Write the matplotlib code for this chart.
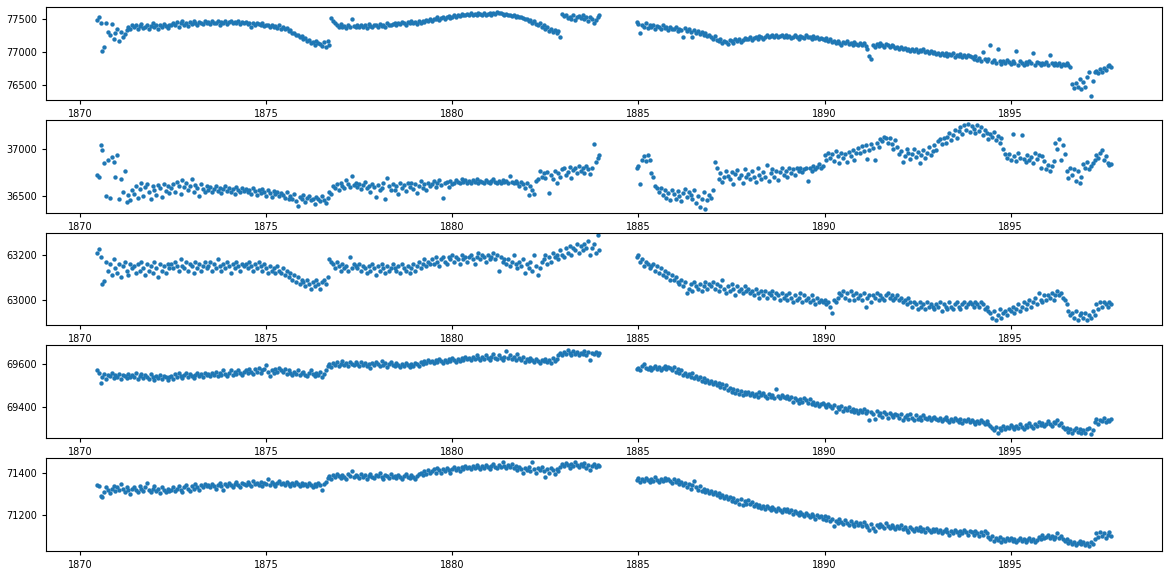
import numpy as np
import matplotlib
matplotlib.use('Agg')
import matplotlib.pyplot as plt
from matplotlib.ticker import MultipleLocator

# sampling of the record: one value every 0.05 year, two runs with a gap in 1884
STEP = 0.05
START_A = 1870.45
START_B = 1884.95

# series 1
s1_a = [
    77480, 77520, 77430, 77020, 77080, 77440, 77300, 77250, 77420, 77200, 77290, 77350, 77160, 77300, 77220, 77270, 77330, 77380, 77340, 77400,
    77370, 77410, 77350, 77390, 77420, 77360, 77380, 77400, 77340, 77390, 77430, 77370, 77400, 77350, 77410, 77380, 77420, 77390, 77360, 77410,
    77400, 77440, 77410, 77450, 77380, 77430, 77460, 77410, 77440, 77390, 77450, 77420, 77470, 77430, 77400, 77450, 77440, 77420, 77460, 77430,
    77450, 77420, 77460, 77440, 77430, 77470, 77410, 77450, 77440, 77460, 77420, 77450, 77470, 77430, 77450, 77440, 77460, 77420, 77450, 77440,
    77450, 77420, 77440, 77380, 77430, 77410, 77440, 77420, 77400, 77430, 77390, 77410, 77400, 77380, 77410, 77370, 77390, 77360, 77400, 77350,
    77380, 77340, 77360, 77310, 77330, 77280, 77290, 77250, 77260, 77220, 77240, 77190, 77210, 77160, 77180, 77140, 77150, 77110, 77170, 77130,
    77120, 77090, 77150, 77070, 77160, 77100, 77510, 77470, 77430, 77400, 77380, 77420, 77370, 77390, 77360, 77400, 77380, 77500, 77390, 77370,
    77400, 77370, 77410, 77380, 77400, 77360, 77420, 77390, 77380, 77410, 77400, 77370, 77420, 77390, 77410, 77380, 77430, 77400, 77410, 77420,
    77430, 77410, 77440, 77420, 77450, 77430, 77410, 77450, 77440, 77460, 77430, 77450, 77420, 77460, 77440, 77470, 77450, 77480, 77460, 77490,
    77470, 77500, 77490, 77520, 77480, 77510, 77530, 77500, 77520, 77540, 77510, 77530, 77550, 77520, 77560, 77540, 77570, 77550, 77560, 77570,
    77560, 77580, 77550, 77570, 77560, 77580, 77570, 77550, 77580, 77560, 77570, 77590, 77560, 77580, 77570, 77600, 77590, 77580, 77570, 77560,
    77570, 77550, 77560, 77540, 77550, 77530, 77540, 77520, 77530, 77510, 77500, 77490, 77470, 77480, 77440, 77460, 77420, 77400, 77430, 77380,
    77400, 77350, 77370, 77320, 77340, 77300, 77330, 77280, 77310, 77220, 77570, 77540, 77560, 77510, 77530, 77500, 77550, 77480, 77520, 77540,
    77510, 77550, 77490, 77530, 77470, 77520, 77500, 77440, 77480, 77530, 77550,
]
s1_b = [
    77450, 77420, 77290, 77400, 77380, 77430, 77360, 77400, 77370, 77410, 77350, 77390, 77370, 77340, 77400, 77360, 77380, 77330, 77370, 77350,
    77340, 77370, 77320, 77350, 77330, 77220, 77360, 77310, 77340, 77300, 77220, 77330, 77290, 77310, 77270, 77300, 77250, 77280, 77240, 77260,
    77230, 77200, 77240, 77180, 77160, 77190, 77130, 77170, 77150, 77120, 77180, 77160, 77140, 77190, 77170, 77200, 77150, 77180, 77210, 77190,
    77200, 77220, 77180, 77210, 77230, 77200, 77240, 77220, 77190, 77230, 77250, 77220, 77240, 77260, 77230, 77250, 77220, 77240, 77260, 77230,
    77250, 77220, 77240, 77210, 77230, 77250, 77220, 77200, 77240, 77230, 77210, 77250, 77220, 77230, 77200, 77240, 77210, 77220, 77190, 77210,
    77200, 77180, 77210, 77170, 77190, 77150, 77170, 77130, 77160, 77140, 77110, 77150, 77130, 77160, 77120, 77140, 77100, 77150, 77120, 77110,
    77140, 77100, 77130, 77090, 77050, 76940, 76900, 77110, 77080, 77120, 77090, 77130, 77110, 77080, 77120, 77100, 77070, 77110, 77090, 77060,
    77080, 77050, 77070, 77040, 77060, 77030, 77050, 77010, 77040, 77020, 77050, 77000, 77030, 77010, 77040, 77000, 77020, 76990, 77010, 76980,
    77000, 76970, 76990, 76950, 76980, 76960, 76990, 76940, 76970, 76950, 76980, 76930, 76960, 76940, 76970, 76920, 76950, 76930, 76960, 76940,
    76930, 76900, 76940, 76880, 76910, 76870, 77000, 76900, 76860, 76890, 77100, 76850, 76880, 76840, 77050, 76870, 76820, 76860, 76840, 76880,
    76850, 76820, 76870, 76840, 77020, 76810, 76860, 76830, 76800, 76850, 76820, 76860, 76840, 76980, 76810, 76850, 76830, 76800, 76840, 76820,
    76850, 76810, 76960, 76830, 76800, 76840, 76810, 76830, 76790, 76820, 76800, 76840, 76810, 76780, 76520, 76460, 76540, 76480, 76600, 76440,
    76550, 76480, 76620, 76700, 76340, 76560, 76700, 76720, 76680, 76740, 76700, 76760, 76730, 76790, 76810, 76780,
]

# series 2
s2_a = [
    36720, 36700, 37040, 36990, 36850, 36500, 36880, 36480, 36910, 36860, 36700, 36930, 36460, 36680, 36540, 36760, 36430, 36510, 36450, 36560,
    36520, 36600, 36480, 36570, 36640, 36500, 36590, 36620, 36540, 36470, 36600, 36560, 36510, 36610, 36580, 36490, 36620, 36550, 36600, 36530,
    36580, 36620, 36540, 36650, 36600, 36520, 36670, 36590, 36630, 36560, 36600, 36680, 36540, 36610, 36580, 36500, 36620, 36570, 36540, 36600,
    36560, 36590, 36540, 36570, 36600, 36550, 36580, 36530, 36570, 36600, 36550, 36580, 36540, 36570, 36520, 36590, 36560, 36540, 36580, 36550,
    36570, 36540, 36560, 36520, 36580, 36550, 36510, 36560, 36530, 36570, 36540, 36500, 36560, 36530, 36490, 36550, 36520, 36540, 36500, 36530,
    36510, 36480, 36540, 36460, 36500, 36470, 36520, 36440, 36390, 36490, 36460, 36510, 36430, 36480, 36500, 36450, 36470, 36410, 36490, 36460,
    36440, 36500, 36450, 36420, 36480, 36540, 36520, 36600, 36580, 36620, 36560, 36640, 36600, 36580, 36670, 36620, 36590, 36710, 36610, 36640,
    36590, 36620, 36570, 36610, 36650, 36580, 36600, 36540, 36620, 36590, 36490, 36610, 36560, 36580, 36640, 36470, 36690, 36600, 36560, 36620,
    36560, 36600, 36520, 36640, 36580, 36610, 36550, 36630, 36590, 36640, 36570, 36620, 36530, 36600, 36660, 36580, 36620, 36560, 36640, 36600,
    36620, 36660, 36590, 36640, 36670, 36610, 36480, 36630, 36650, 36590, 36660, 36620, 36640, 36670, 36650, 36630, 36680, 36650, 36670, 36640,
    36660, 36640, 36670, 36650, 36680, 36630, 36660, 36650, 36640, 36670, 36650, 36630, 36660, 36680, 36650, 36640, 36660, 36630, 36670, 36650,
    36660, 36640, 36710, 36650, 36630, 36660, 36640, 36600, 36650, 36620, 36580, 36630, 36510, 36600, 36560, 36520, 36660, 36680, 36760, 36700,
    36740, 36690, 36750, 36530, 36720, 36680, 36760, 36640, 36740, 36700, 36780, 36800, 36720, 36750, 36810, 36690, 36770, 36800, 36740, 36820,
    36760, 36800, 36740, 36820, 36780, 36730, 36800, 37050, 36860, 36900, 36930,
]
s2_b = [
    36800, 36820, 36620, 36880, 36920, 36870, 36930, 36880, 36740, 36700, 36600, 36580, 36540, 36580, 36510, 36560, 36480, 36530, 36450, 36560,
    36520, 36470, 36550, 36500, 36440, 36530, 36570, 36490, 36540, 36510, 36460, 36560, 36420, 36500, 36380, 36470, 36540, 36360, 36450, 36510,
    36480, 36560, 36860, 36800, 36680, 36740, 36650, 36700, 36760, 36710, 36680, 36750, 36620, 36730, 36770, 36690, 36720, 36640, 36780, 36700,
    36730, 36680, 36760, 36700, 36650, 36790, 36720, 36680, 36750, 36700, 36830, 36660, 36740, 36780, 36700, 36760, 36670, 36750, 36790, 36720,
    36760, 36700, 36790, 36740, 36780, 36720, 36800, 36760, 36790, 36750, 36780, 36800, 36660, 36790, 36760, 36820, 36780, 36810, 36840, 36790,
    36820, 36930, 36880, 36960, 36900, 36940, 36870, 36980, 36920, 36850, 36960, 36900, 36940, 36860, 36970, 36920, 36990, 36880, 36950, 37010,
    36960, 37030, 36980, 37040, 36890, 36990, 37050, 37010, 36880, 37060, 37020, 37100, 37080, 37130, 37120, 37060, 37110, 37050, 37000, 37090,
    37020, 36940, 36980, 36860, 36920, 37000, 36960, 36890, 36940, 37000, 36910, 36970, 36850, 36930, 36990, 36900, 36960, 37020, 36930, 36980,
    37040, 36990, 37080, 37100, 37050, 37110, 37060, 37130, 37170, 37090, 37150, 37200, 37120, 37190, 37230, 37160, 37250, 37200, 37260, 37180,
    37240, 37210, 37170, 37250, 37190, 37230, 37150, 37200, 37170, 37100, 37160, 37130, 37180, 37090, 37140, 37060, 37110, 37000, 36940, 36900,
    36940, 36880, 37160, 36920, 36870, 36950, 36900, 37150, 36890, 36860, 36930, 36880, 36910, 36850, 36960, 36890, 36930, 36800, 36920, 36870,
    36780, 36830, 36760, 36820, 36870, 37060, 37000, 37100, 36880, 37040, 36940, 36760, 36690, 36800, 36720, 36780, 36660, 36760, 36640, 36700,
    36840, 36800, 36860, 36780, 36820, 36850, 36880, 36930, 36900, 36960, 36990, 36880, 36920, 36850, 36830, 36840,
]

# series 3
s3_a = [
    63210, 63225, 63190, 63070, 63085, 63170, 63130, 63160, 63110, 63180, 63140, 63120, 63160, 63100, 63150, 63170, 63130, 63110, 63160, 63140,
    63150, 63120, 63160, 63130, 63170, 63140, 63110, 63160, 63130, 63150, 63120, 63170, 63140, 63100, 63160, 63130, 63150, 63120, 63160, 63140,
    63160, 63140, 63170, 63150, 63130, 63180, 63150, 63140, 63170, 63130, 63160, 63150, 63120, 63170, 63140, 63160, 63130, 63150, 63170, 63140,
    63150, 63170, 63130, 63160, 63140, 63180, 63150, 63130, 63160, 63140, 63170, 63150, 63120, 63160, 63140, 63170, 63150, 63130, 63160, 63150,
    63160, 63140, 63170, 63150, 63130, 63160, 63140, 63170, 63150, 63130, 63160, 63140, 63120, 63150, 63130, 63140, 63120, 63150, 63130, 63120,
    63140, 63110, 63130, 63100, 63120, 63090, 63110, 63080, 63100, 63070, 63090, 63080, 63060, 63090, 63070, 63050, 63080, 63060, 63090, 63070,
    63050, 63080, 63090, 63070, 63100, 63180, 63170, 63160, 63140, 63170, 63150, 63130, 63160, 63140, 63150, 63130, 63190, 63140, 63160, 63150,
    63140, 63160, 63130, 63150, 63140, 63120, 63150, 63130, 63160, 63140, 63110, 63150, 63130, 63160, 63140, 63120, 63150, 63130, 63140, 63160,
    63140, 63130, 63150, 63120, 63160, 63140, 63130, 63150, 63120, 63140, 63160, 63130, 63150, 63170, 63140, 63160, 63180, 63150, 63170, 63160,
    63180, 63160, 63190, 63170, 63150, 63180, 63190, 63170, 63160, 63190, 63180, 63200, 63170, 63190, 63180, 63160, 63200, 63180, 63190, 63170,
    63190, 63200, 63180, 63160, 63190, 63210, 63180, 63200, 63190, 63170, 63200, 63180, 63190, 63210, 63180, 63200, 63130, 63190, 63170, 63180,
    63160, 63180, 63150, 63170, 63200, 63160, 63140, 63170, 63150, 63180, 63120, 63160, 63140, 63170, 63130, 63200, 63150, 63110, 63140, 63170,
    63180, 63200, 63160, 63190, 63170, 63210, 63190, 63200, 63180, 63220, 63200, 63190, 63230, 63210, 63240, 63200, 63230, 63220, 63250, 63210,
    63240, 63220, 63250, 63230, 63260, 63200, 63230, 63250, 63210, 63290, 63220,
]
s3_b = [
    63190, 63200, 63170, 63180, 63150, 63170, 63160, 63140, 63150, 63160, 63130, 63150, 63120, 63140, 63110, 63130, 63100, 63120, 63090, 63110,
    63090, 63100, 63080, 63070, 63090, 63060, 63080, 63030, 63050, 63070, 63040, 63080, 63060, 63050, 63070, 63040, 63060, 63080, 63050, 63070,
    63060, 63080, 63050, 63070, 63040, 63060, 63090, 63050, 63030, 63060, 63040, 63070, 63050, 63020, 63060, 63040, 63050, 63030, 63060, 63040,
    63050, 63030, 63040, 63020, 63050, 63030, 63010, 63040, 63020, 63040, 63010, 63030, 63020, 63040, 63010, 63030, 63020, 63000, 63030, 63010,
    63020, 63000, 63030, 63010, 62990, 63020, 63000, 63010, 63030, 62990, 63020, 63000, 63010, 62990, 63020, 63000, 62980, 63010, 62990, 63000,
    62990, 63000, 62980, 62990, 62970, 62940, 63000, 62990, 63010, 63030, 63020, 63040, 63010, 63030, 63000, 63040, 63020, 63000, 63030, 63010,
    63020, 63000, 63030, 62970, 63010, 63020, 62990, 63020, 63010, 63030, 63000, 63020, 63010, 63000, 63020, 63030, 63010, 63020, 63000, 63010,
    63020, 63000, 63010, 62990, 63000, 62980, 63010, 62990, 62970, 62990, 62980, 62960, 62990, 62970, 62980, 62960, 62990, 62970, 62980, 62970,
    62960, 62980, 62970, 62990, 62950, 62980, 62970, 62960, 62990, 62970, 62960, 62980, 62990, 62970, 62960, 62980, 62990, 62970, 62980, 62990,
    62980, 62970, 62990, 62980, 62970, 62990, 62980, 62960, 62970, 62950, 62940, 62920, 62950, 62910, 62930, 62960, 62920, 62940, 62950, 62930,
    62960, 62950, 62970, 62940, 62960, 62980, 62950, 62970, 62990, 62960, 62980, 63000, 62970, 62990, 63010, 62980, 63030, 63000, 62990, 63020,
    63000, 63020, 63010, 63030, 63000, 63020, 63040, 63020, 63030, 63010, 63000, 62980, 62950, 62930, 62940, 62920, 62950, 62910, 62930, 62940,
    62920, 62940, 62910, 62930, 62920, 62950, 62930, 62980, 62960, 62990, 62970, 62990, 62980, 62970, 62990, 62980,
]

# series 4
s4_a = [
    69570, 69560, 69510, 69540, 69555, 69530, 69550, 69545, 69560, 69535, 69550, 69540, 69555, 69530, 69550, 69545, 69535, 69555, 69540, 69550,
    69540, 69560, 69530, 69545, 69555, 69535, 69550, 69540, 69530, 69555, 69540, 69525, 69545, 69535, 69550, 69530, 69545, 69540, 69525, 69540,
    69545, 69530, 69555, 69540, 69560, 69545, 69535, 69550, 69560, 69540, 69555, 69545, 69535, 69550, 69560, 69545, 69555, 69540, 69560, 69550,
    69555, 69545, 69560, 69550, 69565, 69545, 69560, 69550, 69570, 69555, 69545, 69560, 69570, 69550, 69565, 69555, 69570, 69560, 69550, 69565,
    69570, 69560, 69575, 69565, 69555, 69575, 69565, 69580, 69560, 69570, 69575, 69595, 69565, 69545, 69570, 69560, 69575, 69565, 69580, 69570,
    69565, 69575, 69555, 69570, 69560, 69550, 69565, 69555, 69570, 69550, 69560, 69565, 69550, 69545, 69560, 69570, 69555, 69545, 69560, 69550,
    69565, 69540, 69555, 69570, 69590, 69600, 69585, 69605, 69595, 69610, 69590, 69600, 69615, 69595, 69605, 69590, 69610, 69600, 69595, 69610,
    69600, 69590, 69610, 69595, 69605, 69590, 69600, 69580, 69605, 69595, 69610, 69600, 69590, 69615, 69595, 69605, 69585, 69600, 69610, 69595,
    69590, 69605, 69595, 69585, 69600, 69590, 69605, 69595, 69585, 69600, 69590, 69605, 69600, 69590, 69610, 69600, 69615, 69605, 69620, 69610,
    69615, 69605, 69620, 69610, 69625, 69615, 69605, 69620, 69610, 69625, 69615, 69630, 69620, 69610, 69625, 69615, 69630, 69620, 69635, 69625,
    69630, 69620, 69635, 69625, 69640, 69630, 69620, 69635, 69625, 69640, 69630, 69620, 69635, 69645, 69630, 69625, 69640, 69630, 69620, 69635,
    69660, 69630, 69640, 69625, 69635, 69620, 69645, 69630, 69620, 69635, 69610, 69625, 69615, 69630, 69620, 69610, 69625, 69615, 69605, 69620,
    69615, 69625, 69610, 69620, 69605, 69630, 69615, 69625, 69640, 69650, 69640, 69655, 69645, 69665, 69650, 69640, 69660, 69645, 69655, 69640,
    69650, 69645, 69660, 69640, 69655, 69620, 69650, 69645, 69655, 69640, 69650,
]
s4_b = [
    69575, 69580, 69570, 69590, 69600, 69580, 69575, 69585, 69570, 69580, 69590, 69575, 69585, 69570, 69580, 69590, 69575, 69585, 69580, 69570,
    69585, 69565, 69575, 69560, 69570, 69550, 69560, 69545, 69555, 69540, 69560, 69535, 69545, 69530, 69540, 69520, 69535, 69515, 69525, 69510,
    69520, 69505, 69515, 69500, 69510, 69495, 69505, 69490, 69500, 69480, 69490, 69470, 69485, 69465, 69480, 69460, 69475, 69455, 69470, 69460,
    69470, 69455, 69465, 69450, 69460, 69445, 69470, 69455, 69465, 69450, 69440, 69460, 69445, 69455, 69440, 69485, 69450, 69440, 69455, 69445,
    69440, 69450, 69435, 69445, 69425, 69440, 69430, 69420, 69435, 69425, 69440, 69430, 69420, 69435, 69415, 69425, 69410, 69420, 69405, 69415,
    69420, 69410, 69400, 69415, 69405, 69395, 69410, 69375, 69400, 69390, 69405, 69380, 69395, 69385, 69400, 69380, 69390, 69375, 69385, 69370,
    69385, 69375, 69390, 69370, 69380, 69340, 69375, 69365, 69345, 69380, 69360, 69370, 69355, 69375, 69365, 69350, 69370, 69360, 69355, 69365,
    69360, 69350, 69365, 69340, 69355, 69360, 69345, 69365, 69350, 69340, 69360, 69345, 69355, 69340, 69360, 69350, 69345, 69355, 69340, 69350,
    69355, 69345, 69340, 69350, 69335, 69345, 69355, 69340, 69330, 69345, 69335, 69350, 69340, 69330, 69345, 69325, 69340, 69335, 69345, 69330,
    69340, 69330, 69320, 69335, 69325, 69340, 69330, 69320, 69335, 69320, 69310, 69300, 69290, 69305, 69280, 69300, 69290, 69310, 69295, 69305,
    69300, 69315, 69305, 69295, 69310, 69300, 69320, 69305, 69295, 69315, 69305, 69325, 69310, 69300, 69320, 69310, 69330, 69315, 69325, 69310,
    69320, 69335, 69320, 69310, 69330, 69325, 69340, 69315, 69325, 69305, 69295, 69300, 69285, 69295, 69280, 69290, 69300, 69285, 69295, 69280,
    69290, 69280, 69295, 69300, 69275, 69290, 69330, 69345, 69320, 69340, 69335, 69350, 69330, 69340, 69335, 69345,
]

# series 5
s5_a = [
    71340, 71335, 71290, 71285, 71310, 71330, 71320, 71305, 71325, 71335, 71315, 71330, 71320, 71345, 71325, 71310, 71330, 71320, 71300, 71325,
    71330, 71320, 71310, 71335, 71325, 71315, 71330, 71350, 71320, 71310, 71325, 71335, 71315, 71325, 71305, 71330, 71320, 71310, 71325, 71315,
    71320, 71330, 71315, 71325, 71335, 71320, 71310, 71330, 71340, 71325, 71315, 71335, 71325, 71345, 71330, 71320, 71340, 71330, 71345, 71335,
    71340, 71330, 71345, 71335, 71325, 71340, 71350, 71335, 71320, 71345, 71335, 71350, 71340, 71330, 71345, 71355, 71340, 71330, 71350, 71345,
    71340, 71355, 71345, 71335, 71360, 71345, 71350, 71340, 71355, 71335, 71350, 71345, 71370, 71340, 71355, 71345, 71335, 71350, 71360, 71345,
    71350, 71340, 71355, 71345, 71335, 71350, 71340, 71355, 71345, 71335, 71350, 71340, 71345, 71335, 71350, 71340, 71330, 71345, 71335, 71350,
    71340, 71320, 71345, 71355, 71375, 71385, 71370, 71390, 71380, 71395, 71385, 71375, 71390, 71380, 71370, 71395, 71385, 71405, 71380, 71390,
    71385, 71375, 71395, 71380, 71390, 71370, 71385, 71395, 71380, 71375, 71390, 71385, 71400, 71380, 71370, 71390, 71385, 71375, 71395, 71380,
    71385, 71375, 71390, 71380, 71370, 71385, 71395, 71380, 71375, 71390, 71380, 71370, 71385, 71395, 71400, 71390, 71405, 71395, 71410, 71400,
    71405, 71415, 71400, 71420, 71410, 71400, 71415, 71405, 71420, 71410, 71400, 71415, 71425, 71410, 71420, 71405, 71425, 71415, 71430, 71420,
    71425, 71415, 71430, 71420, 71435, 71425, 71415, 71430, 71420, 71435, 71425, 71415, 71430, 71440, 71425, 71420, 71435, 71425, 71450, 71430,
    71420, 71435, 71425, 71440, 71420, 71430, 71410, 71425, 71415, 71400, 71420, 71410, 71425, 71405, 71450, 71415, 71400, 71420, 71410, 71425,
    71405, 71380, 71415, 71400, 71420, 71410, 71395, 71415, 71405, 71425, 71440, 71430, 71445, 71435, 71420, 71440, 71430, 71450, 71435, 71425,
    71440, 71430, 71445, 71420, 71435, 71410, 71430, 71440, 71425, 71435, 71430,
]
s5_b = [
    71365, 71375, 71355, 71370, 71360, 71375, 71365, 71355, 71370, 71360, 71380, 71365, 71355, 71370, 71360, 71375, 71365, 71370, 71360, 71350,
    71370, 71355, 71365, 71345, 71355, 71340, 71350, 71330, 71345, 71325, 71340, 71360, 71330, 71320, 71335, 71315, 71325, 71310, 71320, 71305,
    71315, 71300, 71310, 71295, 71305, 71285, 71295, 71280, 71290, 71275, 71285, 71265, 71280, 71260, 71270, 71255, 71275, 71250, 71265, 71255,
    71270, 71255, 71260, 71245, 71255, 71240, 71250, 71235, 71245, 71230, 71245, 71235, 71225, 71240, 71230, 71220, 71235, 71225, 71215, 71230,
    71220, 71230, 71215, 71225, 71205, 71220, 71210, 71200, 71215, 71205, 71195, 71210, 71200, 71190, 71205, 71195, 71185, 71200, 71190, 71195,
    71185, 71195, 71180, 71190, 71175, 71185, 71150, 71175, 71165, 71185, 71170, 71160, 71180, 71165, 71155, 71175, 71160, 71150, 71170, 71155,
    71165, 71150, 71170, 71155, 71145, 71130, 71160, 71140, 71125, 71155, 71145, 71160, 71150, 71140, 71165, 71150, 71140, 71155, 71145, 71135,
    71150, 71140, 71155, 71135, 71145, 71130, 71120, 71145, 71135, 71125, 71140, 71130, 71145, 71125, 71135, 71120, 71140, 71130, 71120, 71135,
    71125, 71135, 71120, 71130, 71115, 71125, 71135, 71120, 71110, 71125, 71115, 71130, 71120, 71110, 71125, 71115, 71130, 71120, 71110, 71125,
    71120, 71110, 71125, 71115, 71105, 71120, 71110, 71125, 71115, 71100, 71090, 71105, 71080, 71095, 71085, 71100, 71075, 71090, 71080, 71095,
    71085, 71095, 71080, 71090, 71075, 71085, 71095, 71080, 71090, 71075, 71085, 71095, 71080, 71090, 71075, 71085, 71100, 71090, 71110, 71095,
    71100, 71110, 71095, 71105, 71090, 71100, 71115, 71095, 71105, 71090, 71080, 71090, 71070, 71080, 71065, 71075, 71060, 71070, 71080, 71065,
    71075, 71060, 71070, 71055, 71075, 71065, 71090, 71115, 71100, 71120, 71105, 71115, 71095, 71110, 71120, 71105,
]

panels = [(s1_a, s1_b), (s2_a, s2_b), (s3_a, s3_b), (s4_a, s4_b), (s5_a, s5_b)]
y_limits = [(76285, 77675), (36320, 37310), (62886, 63299), (69254, 69687), (71033, 71467)]
y_steps = [500, 500, 200, 200, 200]


def years(start, vals):
    return start + STEP * np.arange(len(vals))


def main():
    fig, axes = plt.subplots(5, 1, figsize=(11.69, 5.75), dpi=100)
    fig.subplots_adjust(left=0.0394, right=0.994, top=0.988, bottom=0.0417, hspace=0.215)

    for ax, (a, b), ylim, ystep in zip(axes, panels, y_limits, y_steps):
        x = np.concatenate([years(START_A, a), years(START_B, b)])
        y = np.concatenate([a, b])
        ax.scatter(x, y, s=10, color='#1f77b4', linewidths=0)
        ax.set_ylim(*ylim)
        ax.xaxis.set_major_locator(MultipleLocator(5))
        ax.yaxis.set_major_locator(MultipleLocator(ystep))
        ax.tick_params(labelsize=7, length=3)

    fig.savefig('out.png', dpi=100)
    plt.close(fig)


if __name__ == "__main__":
    main()
